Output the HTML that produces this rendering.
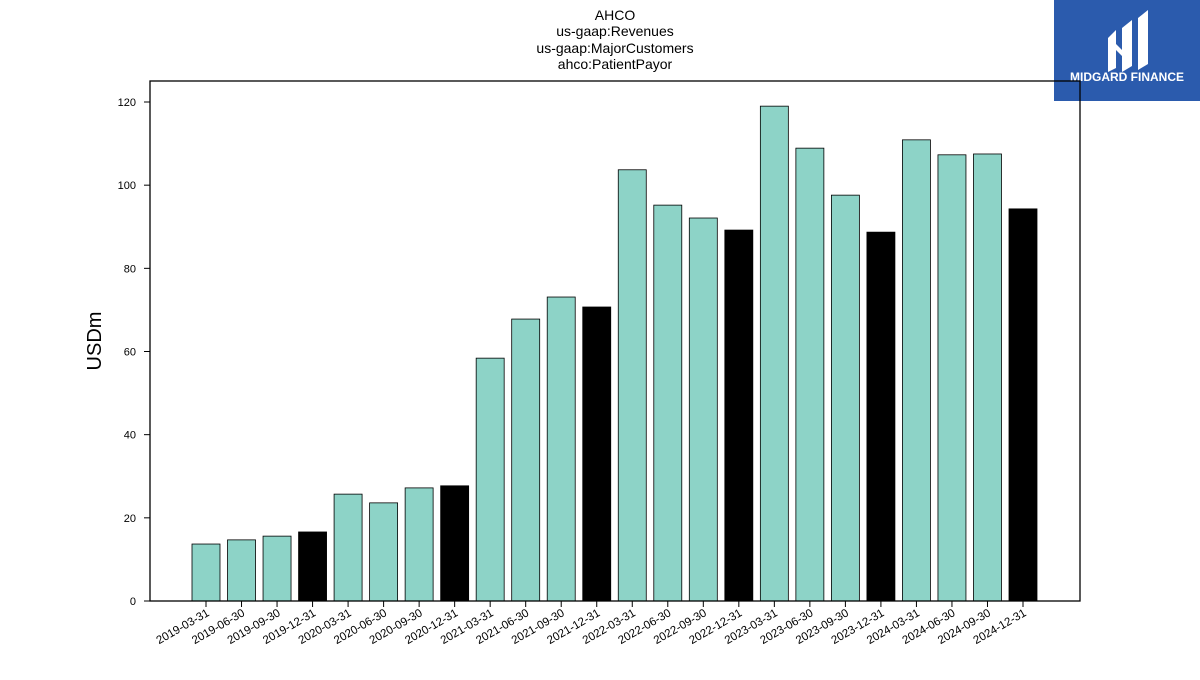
<!DOCTYPE html>
<html><head><meta charset="utf-8"><style>
body{margin:0;width:1200px;height:675px;background:#fff;overflow:hidden;font-family:"Liberation Sans","DejaVu Sans",sans-serif}
</style></head><body>
<svg id="chart" width="1200" height="675" xmlns="http://www.w3.org/2000/svg">
<g font-size="14" text-anchor="middle" fill="#000">
<text x="615" y="20">AHCO</text><text x="615" y="36">us-gaap:Revenues</text>
<text x="615" y="53">us-gaap:MajorCustomers</text><text x="615" y="69">ahco:PatientPayor</text></g>
<g>
<rect x="1054" y="0" width="146" height="101" fill="#2b5bad"/>
<path d="M1108 38 L1116 30 L1116 68 L1108 72 Z M1122 28 L1132 20 L1132 66 L1122 72 Z M1138 18 L1148 10 L1148 64 L1138 70 Z M1116 44 L1124 52 L1124 58 L1116 50 Z" fill="#fff"/>
<text x="1127" y="81" font-size="12" font-weight="bold" fill="#fff" text-anchor="middle">MIDGARD FINANCE</text></g>
<text transform="translate(101,341) rotate(-90)" font-size="20" text-anchor="middle">USDm</text>
<g id="plot"></g>
<rect x="150" y="81" width="930" height="520" fill="none" stroke="#000" stroke-width="1.3"/>
</svg>
<script>
const categories=["2019-03-31","2019-06-30","2019-09-30","2019-12-31","2020-03-31","2020-06-30","2020-09-30","2020-12-31","2021-03-31","2021-06-30","2021-09-30","2021-12-31","2022-03-31","2022-06-30","2022-09-30","2022-12-31","2023-03-31","2023-06-30","2023-09-30","2023-12-31","2024-03-31","2024-06-30","2024-09-30","2024-12-31"];
const values=[13.7,14.7,15.6,16.6,25.7,23.6,27.2,27.7,58.4,67.8,73.1,70.7,103.7,95.2,92.1,89.2,119.0,108.9,97.6,88.7,110.9,107.3,107.5,94.3];
const yTicks=[0,20,40,60,80,100,120];
const NS="http://www.w3.org/2000/svg";
const g=document.getElementById('plot');
const y=v=>601-v*(499/120);
const x=i=>206+i*(1023-206)/(categories.length-1);
function mk(t,a){const e=document.createElementNS(NS,t);for(const k in a)e.setAttribute(k,a[k]);g.appendChild(e);return e;}
yTicks.forEach(v=>{
 const l=mk('line',{x1:144,x2:150,y1:y(v),y2:y(v),stroke:'#000'});
 
 
 const t=mk('text',{x:136,y:y(v)+4,'font-size':11,'text-anchor':'end'});t.textContent=v;
 
 
});
categories.forEach((c,i)=>{
 const dark=c.endsWith('12-31');
 const r=mk('rect',{x:x(i)-14,y:y(values[i]),width:28,height:601-y(values[i]),fill:dark?'#000':'#8dd3c7',stroke:'#000','stroke-width':0.8});
 
 
 const l=mk('line',{x1:x(i),x2:x(i),y1:601,y2:607,stroke:'#000'});
 
 
 const t=mk('text',{x:x(i)+4,y:615,'font-size':11.5,'text-anchor':'end',transform:`rotate(-30 ${x(i)+4} 615)`});t.textContent=c;
 
 
});
</script>
</body></html>
